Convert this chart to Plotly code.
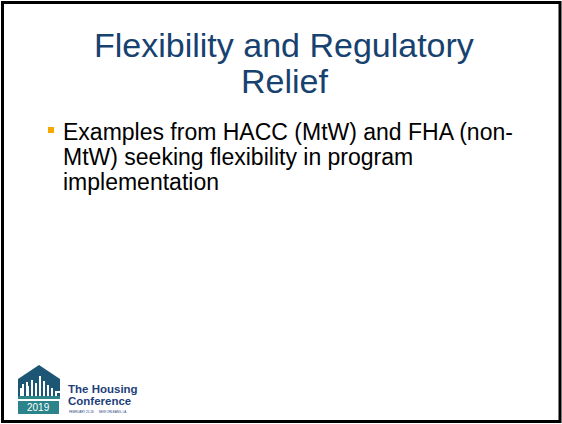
import plotly.graph_objects as go

W, H = 562, 424

title_lines = ["Flexibility and Regulatory", "Relief"]
bullet_lines = ["Examples from HACC (MtW) and FHA (non-",
                "MtW) seeking flexibility in program",
                "implementation"]
logo_lines = ["The Housing", "Conference"]
logo_sub = "FEBRUARY 25-26      NEW ORLEANS, LA"
logo_year = "2019"

TITLE_COLOR = "#17426F"
BULLET_COLOR = "#F5A800"
LOGO_DARK = "#1D5674"
LOGO_TEAL = "#2A8489"
LOGO_TEXT = "#1E3F7A"
FONT = "Liberation Sans, Arial, sans-serif"

fig = go.Figure()
fig.add_trace(go.Scatter(x=[0, W], y=[0, H], mode="markers",
                         marker=dict(opacity=0), hoverinfo="skip", showlegend=False))

shapes = []
# slide border
shapes.append(dict(type="rect", x0=2.5, y0=2.5, x1=560, y1=421.5,
                   line=dict(color="#000000", width=3), fillcolor="rgba(0,0,0,0)"))
# bullet square
shapes.append(dict(type="rect", x0=48, y0=127, x1=54, y1=133,
                   line=dict(width=0), fillcolor=BULLET_COLOR))
# logo house
shapes.append(dict(type="path", path="M 18 379 L 39 365 L 60 379 L 60 397 L 18 397 Z",
                   line=dict(width=0), fillcolor=LOGO_DARK))
# skyline (white buildings)
sky = ("M 20 397 L 20 388 L 22 388 L 22 384 L 24 384 L 24 397 Z "
       "M 26 397 L 26 382 L 28 382 L 28 386 L 29 386 L 29 397 Z "
       "M 31 397 L 31 380 L 33 380 L 33 397 Z "
       "M 35 397 L 35 383 L 37 383 L 37 397 Z "
       "M 39 397 L 39 376 L 41 376 L 41 397 Z "
       "M 43 397 L 43 381 L 45 381 L 45 397 Z "
       "M 47 397 L 47 385 L 49 385 L 49 397 Z "
       "M 51 397 L 51 388 L 53 388 L 53 397 Z "
       "M 55 397 L 55 391 L 60 391 L 60 393 L 57 393 L 57 397 Z")
shapes.append(dict(type="path", path=sky, line=dict(width=0), fillcolor="#FFFFFF"))
shapes.append(dict(type="rect", x0=18, y0=396, x1=60, y1=399,
                   line=dict(width=0), fillcolor=LOGO_TEAL))
shapes.append(dict(type="rect", x0=18, y0=401, x1=59, y1=414,
                   line=dict(width=0), fillcolor=LOGO_TEAL))

ann = []
title_y = [45, 81]
for t, y in zip(title_lines, title_y):
    ann.append(dict(x=284, y=y, text=t, showarrow=False, xanchor="center",
                    yanchor="middle", font=dict(family=FONT, size=34, color=TITLE_COLOR)))
bullet_y = [132, 157, 182]
for t, y in zip(bullet_lines, bullet_y):
    ann.append(dict(x=61, y=y, text=t, showarrow=False, xanchor="left",
                    yanchor="middle", font=dict(family=FONT, size=23, color="#000000")))
logo_y = [389, 401]
for t, y in zip(logo_lines, logo_y):
    ann.append(dict(x=66, y=y, text="<b>" + t + "</b>", showarrow=False,
                    xanchor="left", yanchor="middle",
                    font=dict(family=FONT, size=11.5, color=LOGO_TEXT)))
ann.append(dict(x=67, y=411.5, text=logo_sub, showarrow=False, xanchor="left",
                yanchor="middle", font=dict(family=FONT, size=3, color=LOGO_TEXT)))
ann.append(dict(x=38.5, y=407.5, text=logo_year, showarrow=False, xanchor="center",
                yanchor="middle", font=dict(family=FONT, size=10, color="#FFFFFF")))

fig.update_layout(
    width=W, height=H, margin=dict(l=0, r=0, t=0, b=0),
    paper_bgcolor="#FFFFFF", plot_bgcolor="#FFFFFF",
    xaxis=dict(range=[0, W], visible=False, fixedrange=True),
    yaxis=dict(range=[H, 0], visible=False, fixedrange=True),
    shapes=shapes, annotations=ann, showlegend=False,
)
fig.write_html("out.html", config={"displayModeBar": False},
               post_script="document.body.style.margin='0';document.body.style.overflow='hidden';")
